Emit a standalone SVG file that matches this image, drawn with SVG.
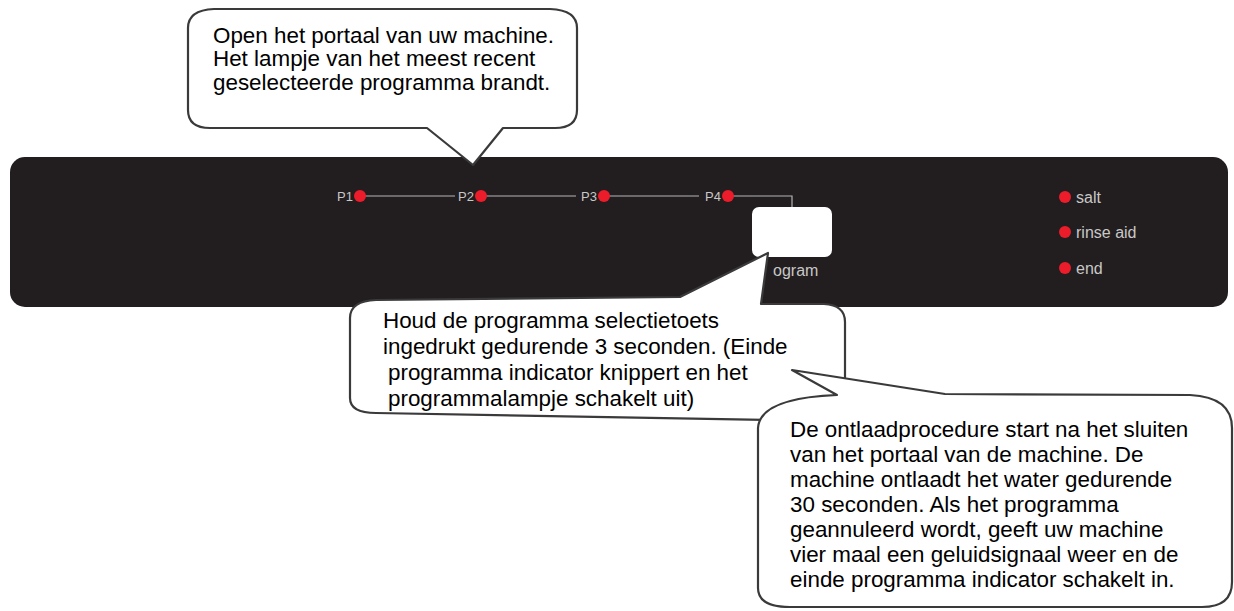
<svg xmlns="http://www.w3.org/2000/svg" width="1234" height="611" viewBox="0 0 1234 611">
<style>
.bg{fill:#ffffff}
.panel{fill:#221e1f}
.led{fill:#ec1c2a}
.plab{font-family:"Liberation Sans",Arial,sans-serif;font-size:13px;fill:#c8c8c8}
.rlab{font-family:"Liberation Sans",Arial,sans-serif;font-size:16px;fill:#c8c8c8}
.wire{stroke:#b4b4b4;stroke-width:1.2;fill:none}
.call{fill:#ffffff;stroke:#3a3a3a;stroke-width:2.2;stroke-linejoin:round}
.ct{font-family:"Liberation Sans",Arial,sans-serif;font-size:22.4px;fill:#000000}
</style>
<rect class="bg" x="0" y="0" width="1234" height="611"/>
<g id="panel">
<rect class="panel" x="10" y="157" width="1218" height="150" rx="15" ry="15"/>
<rect x="752" y="207" width="80" height="50" rx="7" ry="7" fill="#ffffff"/>
<text class="rlab" x="773" y="276">ogram</text>
</g>
<g id="connectors">
<line class="wire" x1="360" y1="196" x2="455" y2="196"/>
<line class="wire" x1="480" y1="196" x2="576" y2="196"/>
<line class="wire" x1="603" y1="196" x2="699" y2="196"/>
<polyline class="wire" points="728,196 792,196 792,207"/>
</g>
<g id="p1"><text class="plab" x="353" y="201" text-anchor="end">P1</text><circle class="led" cx="360" cy="196" r="6"/></g>
<g id="p2"><text class="plab" x="474" y="201" text-anchor="end">P2</text><circle class="led" cx="481" cy="196" r="6"/></g>
<g id="p3"><text class="plab" x="597" y="201" text-anchor="end">P3</text><circle class="led" cx="604" cy="196" r="6"/></g>
<g id="p4"><text class="plab" x="721" y="201" text-anchor="end">P4</text><circle class="led" cx="728" cy="196" r="6"/></g>
<g id="salt"><circle class="led" cx="1065" cy="197" r="6"/><text class="rlab" x="1076" y="203">salt</text></g>
<g id="rinse"><circle class="led" cx="1065" cy="232" r="6"/><text class="rlab" x="1076" y="238">rinse aid</text></g>
<g id="end"><circle class="led" cx="1065" cy="268" r="6"/><text class="rlab" x="1076" y="274">end</text></g>
<g id="callout1">
<path class="call" d="M 214,9 L 550,9 Q 577,10 577,28 L 577,110 Q 577,128 555,128 L 503,128 L 473,165 L 427,128 L 210,128 Q 188,128 188,110 L 188,28 Q 188,10 214,9 Z"/>
<text class="ct" x="213" y="42.5">Open het portaal van uw machine.</text>
<text class="ct" x="213" y="66">Het lampje van het meest recent</text>
<text class="ct" x="213" y="89.5">geselecteerde programma brandt.</text>
</g>
<g id="callout2">
<path class="call" d="M 376,300 L 680,297 L 768,253 L 761,304 L 824,304 Q 845,305 845,322 L 845,400 Q 845,421 822,421 L 376,413 Q 350,413 350,398 L 350,318 Q 350,301 376,300 Z"/>
<text class="ct" x="383" y="328">Houd de programma selectietoets</text>
<text class="ct" x="383" y="354">ingedrukt gedurende 3 seconden. (Einde</text>
<text class="ct" x="388" y="380">programma indicator knippert en het</text>
<text class="ct" x="388" y="406">programmalampje schakelt uit)</text>
</g>
<g id="callout3">
<path class="call" d="M 758,428 Q 760,398 837,395 L 792,370 L 945,394 L 1190,395 Q 1232,397 1232,428 L 1232,582 Q 1232,607 1202,607 L 790,607 Q 758,607 758,588 Z"/>
<text class="ct" x="790" y="437">De ontlaadprocedure start na het sluiten</text>
<text class="ct" x="790" y="462">van het portaal van de machine. De</text>
<text class="ct" x="790" y="487">machine ontlaadt het water gedurende</text>
<text class="ct" x="790" y="512">30 seconden. Als het programma</text>
<text class="ct" x="790" y="537">geannuleerd wordt, geeft uw machine</text>
<text class="ct" x="790" y="562">vier maal een geluidsignaal weer en de</text>
<text class="ct" x="790" y="587">einde programma indicator schakelt in.</text>
</g>
</svg>
